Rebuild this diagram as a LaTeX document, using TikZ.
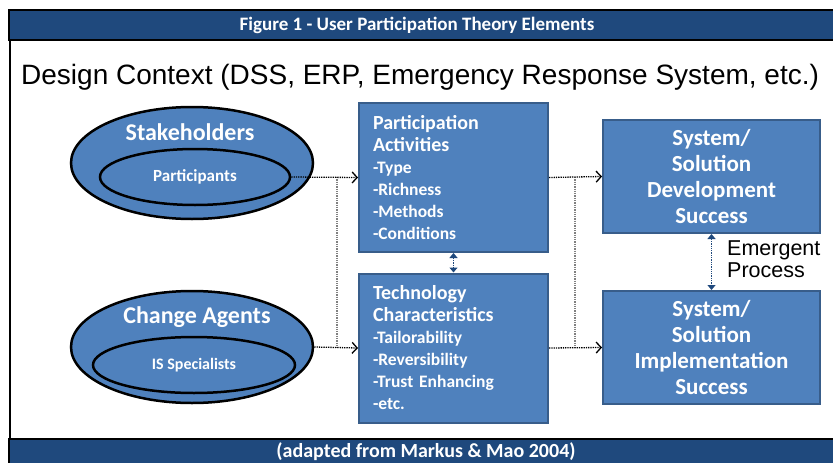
\documentclass[tikz,border=0pt]{standalone}
\usepackage{fontspec}
\setmainfont{Carlito}
\newfontfamily\arialfont{Liberation Sans}
\usepackage{tikz}
\usetikzlibrary{positioning,arrows.meta,shapes.geometric}
\definecolor{upBlue}{HTML}{4F81BD}
\definecolor{upEdge}{HTML}{385D8A}
\definecolor{upNavy}{HTML}{1F497D}
\newcommand{\boxhead}[1]{{\fontsize{20}{22}\selectfont #1}}
\tikzset{
  ring/.style={ellipse, draw=black, line width=2.5pt, fill=upBlue, inner sep=0pt},
  ringtext/.style={text=white, font=\bfseries\fontsize{24}{26}\selectfont},
  midbox/.style={rectangle, draw=upEdge, line width=2pt, fill=upBlue, text=white,
    minimum width=189pt, minimum height=149pt, inner xsep=14pt,
    text width=161pt, align=left, font=\bfseries\fontsize{17.5}{22}\selectfont},
  endbox/.style={rectangle, draw=upEdge, line width=2pt, fill=upBlue, text=white,
    minimum width=217pt, minimum height=113pt, align=center,
    font=\bfseries\fontsize{23}{26}\selectfont},
  flow/.style={densely dotted, line width=1.3pt, -{Straight Barb[length=5pt,width=11pt]}},
  joint/.style={densely dotted, gray, line width=1.3pt},
  emerge/.style={densely dotted, upNavy, line width=1.3pt,
    {Triangle[length=5pt,width=8pt]}-{Triangle[length=5pt,width=8pt]}},
}

\begin{document}
\begin{tikzpicture}[x=1pt, y=-1pt]
  \useasboundingbox (0,0) rectangle (833,463);
  % frame and bands
  \draw[line width=2pt] (10,40) -- (10,439);
  \draw[fill=upNavy, line width=1.5pt] (9,10) rectangle (845,40);
  \draw[fill=upNavy, line width=1.5pt] (9,439) rectangle (845,475);
  \node[text=white, font=\bfseries\fontsize{19}{20}\selectfont] (title) at (417,25)
    {Figure 1 - User Participation Theory Elements};
  \node[text=white, font=\bfseries\fontsize{20}{22}\selectfont] (source) at (426,452)
    {(adapted from Markus \& Mao 2004)};
  \node[anchor=base west, inner sep=0pt, font=\arialfont\fontsize{28}{30}\selectfont]
    (context) at (21,84) {Design Context (DSS, ERP, Emergency Response System, etc.)};

  % who takes part
  \node[ring, minimum width=242pt, minimum height=112pt] (stake) at (192,163) {};
  \node[ring, minimum width=190pt, minimum height=56pt] (part) at (195,177) {};
  \node[ringtext] (stakelbl) at (190,132) {Stakeholders};
  \node[text=white, font=\bfseries\fontsize{17}{18}\selectfont] (partlbl) at (195,177)
    {Participants};
  \node[ring, minimum width=242pt, minimum height=112pt] (change) at (192,347) {};
  \node[ring, minimum width=202pt, minimum height=56pt] (isspec) at (194,365) {};
  \node[ringtext] (changelbl) at (197,317) {Change Agents};
  \node[text=white, font=\bfseries\fontsize{16}{18}\selectfont] (isspeclbl) at (194,365)
    {IS Specialists};

  % what they do
  \node[midbox] (partbox) at (453.5,177.5) {\boxhead{Participation}\\
    \boxhead{Activities}\\ -Type\\ -Richness\\ -Methods\\ -Conditions};
  \node[midbox] (techbox) at (453.5,348) {\boxhead{Technology}\\
    \boxhead{Characteristics}\\ -Tailorability\\ -Reversibility\\ -Trust Enhancing\\ -etc.};

  % outcomes
  \node[endbox] (devbox) at (711.5,176.5) {System/\\ Solution\\ Development\\ Success};
  \node[endbox] (implbox) at (711.5,347.5) {System/\\ Solution\\ Implementation\\ Success};
  \node[anchor=west, align=left, inner sep=0pt, font=\arialfont\fontsize{21.5}{22}\selectfont]
    (emerg) at (727,259) {Emergent\\ Process};

  % connectors
  \coordinate (splitL) at (337,177);
  \coordinate (splitR) at (575,177);
  \draw[joint] (splitL) -- (splitL |- techbox.west);
  \draw[joint] (splitR) -- (splitR |- implbox.west);
  \draw[flow] (part.east) -- (partbox.west);
  \draw[flow] (change.east) -- (techbox.west);
  \draw[flow] (partbox.east) -- (devbox.west);
  \draw[flow] (techbox.east) -- (implbox.west);
  \draw[emerge] (partbox.south) -- (techbox.north);
  \draw[emerge] (devbox.south) -- (implbox.north);
\end{tikzpicture}
\end{document}
